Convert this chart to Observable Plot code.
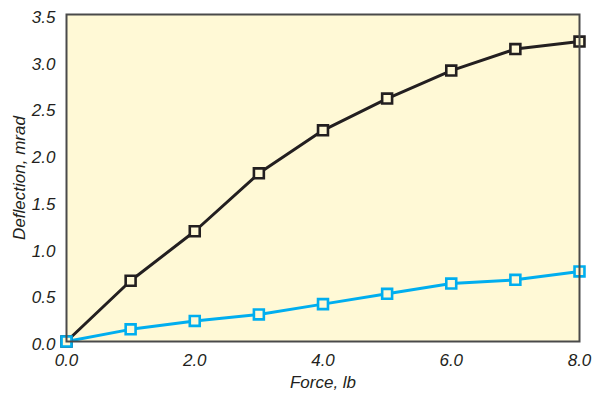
<!DOCTYPE html>
<html>
<head>
<meta charset="utf-8">
<script src="https://cdn.jsdelivr.net/npm/d3@7"></script>
<script src="https://cdn.jsdelivr.net/npm/@observablehq/plot@0.6"></script>
<style>
  html, body { margin: 0; padding: 0; background: #fff; }
  svg { font-family: "Liberation Sans Narrow", "Liberation Sans", sans-serif; font-style: italic; }
</style>
</head>
<body>
<div id="chart"></div>
<script>
const force = [0, 1, 2, 3, 4, 5, 6, 7, 8];
const upperSeries = [0, 0.65, 1.18, 1.80, 2.26, 2.60, 2.90, 3.13, 3.21];
const lowerSeries = [0, 0.13, 0.22, 0.29, 0.40, 0.51, 0.62, 0.66, 0.75];
const xTicks = [0, 2, 4, 6, 8];
const yTicks = [0, 0.5, 1, 1.5, 2, 2.5, 3, 3.5];

const series = [
  {name: "upper", values: upperSeries, color: "#231f20"},
  {name: "lower", values: lowerSeries, color: "#00aeef"}
];
const data = series.flatMap(s => force.map((f, i) => ({x: f, y: s.values[i], name: s.name, color: s.color})));
const bg = "#fff9d6";

const chart = Plot.plot({
  width: 600,
  height: 399,
  marginLeft: 66,
  marginRight: 21,
  marginTop: 14,
  marginBottom: 58,
  style: {fontSize: "17px", fontStyle: "italic", fontFamily: "'Liberation Sans Narrow', 'Liberation Sans', sans-serif", color: "#231f20", background: "#fff"},
  x: {domain: [0, 8]},
  y: {domain: [0, 3.5]},
  marks: [
    Plot.frame({fill: bg, stroke: "none"}),
    Plot.axisX({ticks: xTicks, tickFormat: d => d.toFixed(1), tickSize: 0, tickPadding: 12, label: "Force, lb", labelAnchor: "center", labelArrow: "none", labelOffset: 46}),
    Plot.axisY({ticks: yTicks, tickFormat: d => d.toFixed(1), tickSize: 0, tickPadding: 11, dy: 3, label: null}),
    Plot.axisY({ticks: [], label: "Deflection, mrad", labelAnchor: "center", labelArrow: "none", labelOffset: 54}),
    Plot.line(data, {x: "x", y: "y", z: "name", stroke: "color", strokeWidth: 3}),
    Plot.dot(data, {x: "x", y: "y", stroke: "color", fill: bg, symbol: "square", r: 5.6, strokeWidth: 2.6}),
    Plot.frame({stroke: "#4a4a4a", strokeWidth: 2})
  ]
});
document.getElementById("chart").appendChild(chart);
</script>
</body>
</html>
